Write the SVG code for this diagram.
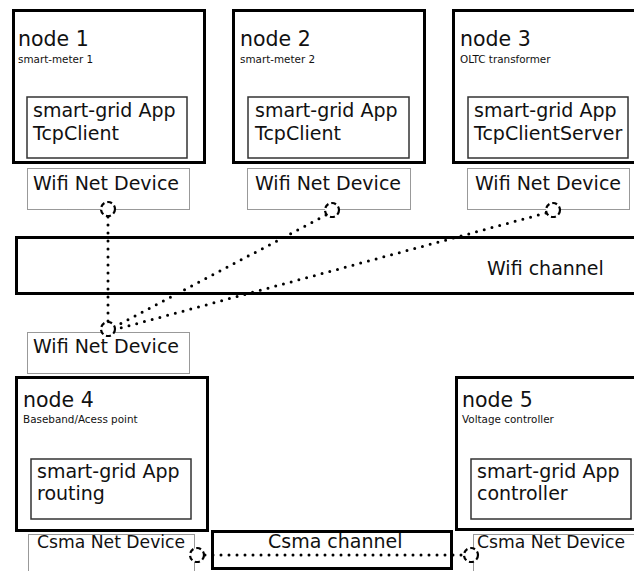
<svg xmlns="http://www.w3.org/2000/svg" width="634" height="571" viewBox="0 0 634 571">
<style>
text{font-family:"DejaVu Sans","Liberation Sans",sans-serif;fill:#111}
.node{fill:#fff;stroke:#000;stroke-width:3}
.app{fill:#fff;stroke:#333;stroke-width:1.5}
.dev{fill:#fff;stroke:#333;stroke-width:1;stroke-dasharray:1 1}
.chan{fill:none;stroke:#000;stroke-width:3}
.t{font-size:20.5px}
.s{font-size:10.4px}
.m{font-size:19px}
.c{font-size:17.2px}
.link{fill:none;stroke:#000;stroke-width:3;stroke-linecap:round;stroke-dasharray:0 8}
.port{fill:#fff;stroke:#000;stroke-width:2.2;stroke-dasharray:5 3}
</style>
<g id="wifi-channel">
<rect class="chan" x="16.5" y="237.5" width="630" height="56"/>
<text class="m" x="487" y="275">Wifi channel</text>
</g>
<g id="csma-channel">
<rect class="chan" x="212.5" y="531.5" width="239" height="37"/>
<text class="m" x="268" y="548">Csma channel</text>
</g>
<g id="node1">
<rect class="node" x="13.5" y="10.5" width="191" height="152"/>
<text class="t" x="18" y="46">node 1</text>
<text class="s" x="18" y="63">smart-meter 1</text>
<rect class="app" x="27" y="97" width="160" height="61"/>
<text class="m" x="33" y="117">smart-grid App</text>
<text class="m" x="33" y="140">TcpClient</text>
<rect class="dev" x="27.5" y="168.5" width="162" height="41"/>
<text class="m" x="33" y="190">Wifi Net Device</text>
</g>
<g id="node2">
<rect class="node" x="233.5" y="10.5" width="191" height="152"/>
<text class="t" x="240" y="46">node 2</text>
<text class="s" x="240" y="63">smart-meter 2</text>
<rect class="app" x="248" y="97" width="161" height="61"/>
<text class="m" x="255" y="117">smart-grid App</text>
<text class="m" x="255" y="140">TcpClient</text>
<rect class="dev" x="247.5" y="168.5" width="163" height="41"/>
<text class="m" x="255" y="190">Wifi Net Device</text>
</g>
<g id="node3">
<rect class="node" x="453.5" y="10.5" width="200" height="152"/>
<text class="t" x="460" y="46">node 3</text>
<text class="s" x="460" y="63">OLTC transformer</text>
<rect class="app" x="468" y="97" width="160" height="61"/>
<text class="m" x="474" y="117">smart-grid App</text>
<text class="m" x="474" y="140">TcpClientServer</text>
<rect class="dev" x="467.5" y="168.5" width="162" height="41"/>
<text class="m" x="475" y="190">Wifi Net Device</text>
</g>
<g id="node4">
<rect class="dev" x="27.5" y="332.5" width="162" height="41"/>
<text class="m" x="33" y="353">Wifi Net Device</text>
<rect class="node" x="16.5" y="377.5" width="191" height="153"/>
<text class="t" x="23" y="407">node 4</text>
<text class="s" x="23" y="423">Baseband/Acess point</text>
<rect class="app" x="31" y="459" width="160" height="60"/>
<text class="m" x="37" y="478">smart-grid App</text>
<text class="m" x="37" y="500">routing</text>
<rect class="dev" x="28.5" y="534.5" width="166" height="50"/>
<text class="c" x="37" y="548">Csma Net Device</text>
</g>
<g id="node5">
<rect class="node" x="456.5" y="377.5" width="200" height="152"/>
<text class="t" x="462" y="407">node 5</text>
<text class="s" x="462" y="423">Voltage controller</text>
<rect class="app" x="471" y="459" width="160" height="60"/>
<text class="m" x="477" y="478">smart-grid App</text>
<text class="m" x="477" y="500">controller</text>
<rect class="dev" x="473.5" y="534.5" width="162" height="50"/>
<text class="c" x="477" y="548">Csma Net Device</text>
</g>
<g id="connectors">
<line class="link" x1="108" y1="217" x2="108" y2="322"/>
<line class="link" x1="326" y1="215" x2="116" y2="326"/>
<line class="link" x1="546" y1="213" x2="117" y2="329"/>
<line class="link" x1="205" y1="555" x2="463" y2="555"/>
<circle class="port" cx="108" cy="209" r="7"/>
<circle class="port" cx="332" cy="210" r="7"/>
<circle class="port" cx="553" cy="210" r="7"/>
<circle class="port" cx="108" cy="329" r="7"/>
<circle class="port" cx="197" cy="555" r="7"/>
<circle class="port" cx="471" cy="555" r="7"/>
</g>
</svg>
